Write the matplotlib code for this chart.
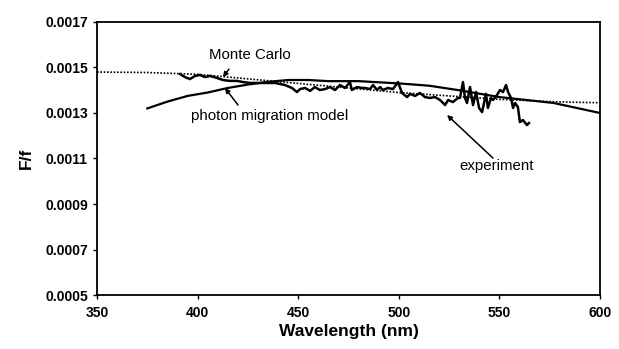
import matplotlib.pyplot as plt
from matplotlib.ticker import FormatStrFormatter

plt.rcParams["font.family"] = ["Liberation Sans", "DejaVu Sans"]

# experiment (noisy measured curve)
exp_wl = [391.3, 393.7, 396.2, 398.7, 401.2, 403.7, 406.2, 409.6, 412.6, 416.1,
          419.6, 422.6, 426.0, 431.0, 436.0, 438.5, 443.4, 446.9, 449.4, 450.9,
          453.4, 455.9, 458.3, 460.8, 463.3, 465.8, 468.3, 470.8, 473.3, 475.7,
          476.7, 479.2, 481.7, 483.2, 485.7, 487.2, 489.2, 490.7, 492.1, 494.6,
          497.1, 499.6, 501.6, 504.1, 505.6, 508.1, 510.5, 513.0, 515.5, 518.0,
          520.5, 523.0, 524.5, 526.9, 529.4, 530.4, 531.9, 532.9, 533.9, 535.4,
          536.9, 538.4, 539.9, 541.4, 543.3, 544.3, 545.8, 546.8, 548.8, 550.3,
          551.8, 553.3, 554.3, 555.8, 556.8, 557.8, 559.2, 560.2, 561.7, 563.7,
          564.7]
exp_val = [0.001471, 0.001458, 0.001449, 0.001463, 0.001467, 0.001458, 0.001463, 0.001454, 0.001445, 0.001441,
           0.001441, 0.001436, 0.001432, 0.001432, 0.001432, 0.001432, 0.001423, 0.001410, 0.001392, 0.001405,
           0.001410, 0.001397, 0.001414, 0.001401, 0.001405, 0.001414, 0.001401, 0.001423, 0.001410, 0.001436,
           0.001401, 0.001414, 0.001410, 0.001410, 0.001405, 0.001423, 0.001401, 0.001414, 0.001401, 0.001410,
           0.001405, 0.001436, 0.001388, 0.001370, 0.001384, 0.001375, 0.001388, 0.001370, 0.001366, 0.001370,
           0.001357, 0.001335, 0.001357, 0.001348, 0.001366, 0.001366, 0.001436, 0.001366, 0.001344, 0.001414,
           0.001335, 0.001392, 0.001322, 0.001304, 0.001384, 0.001322, 0.001366, 0.001357, 0.001379, 0.001401,
           0.001392, 0.001423, 0.001392, 0.001366, 0.001322, 0.001344, 0.001326, 0.001260, 0.001269, 0.001247,
           0.001256]

# photon migration model (solid smooth curve)
pm_wl = [375, 385, 395, 405, 415, 425, 435, 445, 455, 465, 480, 500, 515, 530, 550, 577, 600]
pm_val = [0.00132, 0.00135, 0.001375, 0.00139, 0.00141, 0.001425, 0.001437, 0.001445,
          0.001445, 0.00144, 0.00144, 0.00143, 0.00142, 0.0014, 0.00137, 0.001344, 0.0013]

# Monte Carlo (dotted)
mc_wl = [350, 375, 400, 425, 450, 475, 500, 525, 550, 575, 600]
mc_val = [0.00148, 0.001478, 0.00147, 0.00145, 0.00143, 0.00141, 0.00139, 0.001375,
          0.00136, 0.00135, 0.001345]

x_ticks = [350, 400, 450, 500, 550, 600]
y_ticks = [0.0005, 0.0007, 0.0009, 0.0011, 0.0013, 0.0015, 0.0017]

fig = plt.figure(figsize=(6.19, 3.49), dpi=100)
ax = fig.add_axes([0.1567, 0.1547, 0.8126, 0.7823])

ax.plot(mc_wl, mc_val, color="black", linestyle=(0, (1, 1)), linewidth=1.2)
ax.plot(pm_wl, pm_val, color="black", linewidth=1.6)
ax.plot(exp_wl, exp_val, color="black", linewidth=1.8)

ax.set_xlim(350, 600)
ax.set_ylim(0.0005, 0.0017)
ax.set_xticks(x_ticks)
ax.set_yticks(y_ticks)
ax.yaxis.set_major_formatter(FormatStrFormatter("%.4f"))
ax.tick_params(direction="out", length=3, width=1, labelsize=10)
ax.tick_params(axis="x", pad=5)
for lbl in ax.get_xticklabels() + ax.get_yticklabels():
    lbl.set_fontweight("bold")
for sp in ax.spines.values():
    sp.set_linewidth(1.3)

ax.set_xlabel("Wavelength (nm)", fontsize=12.5, fontweight="bold", labelpad=3)
ax.set_ylabel("F/f", fontsize=12.5, fontweight="bold", labelpad=8)

arrow = dict(arrowstyle="-|>", color="black", lw=1.1, mutation_scale=7, shrinkA=0, shrinkB=0)
ax.text(425.8, 0.001555, "Monte Carlo", ha="center", va="center", fontsize=10.8)
ax.annotate("", xy=(412.6, 0.001458), xytext=(415.6, 0.001493), arrowprops=arrow)
ax.text(435.7, 0.001287, "photon migration model", ha="center", va="center", fontsize=10.8)
ax.annotate("", xy=(413.6, 0.00141), xytext=(420.1, 0.001335), arrowprops=arrow)
ax.text(548.6, 0.001067, "experiment", ha="center", va="center", fontsize=10.8)
ax.annotate("", xy=(524, 0.001291), xytext=(546.8, 0.001102), arrowprops=arrow)

fig.savefig("out.png", dpi=100)
